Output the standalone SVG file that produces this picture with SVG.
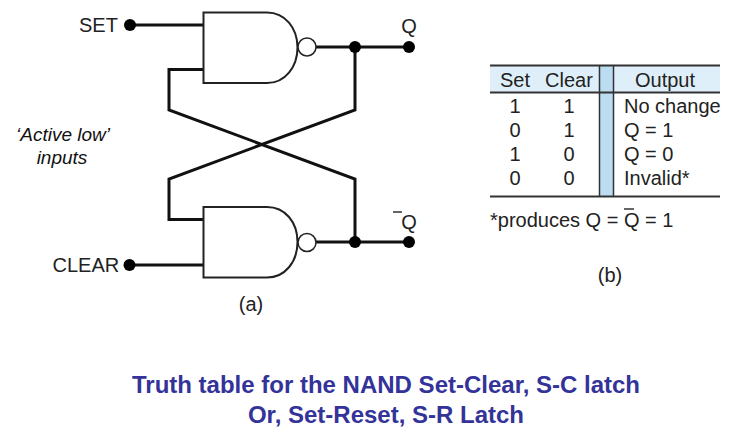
<svg xmlns="http://www.w3.org/2000/svg" width="739" height="439" viewBox="0 0 739 439">
<style>
text{font-family:"Liberation Sans",Arial,sans-serif;fill:#222}
.l{font-size:20px}
.t{font-size:20px}
.m{text-anchor:middle}
.i{font-size:19px;font-style:italic;fill:#111;text-anchor:middle}
.h{font-size:24px;font-weight:bold;fill:#333399;text-anchor:middle}
.gate{fill:#fff;stroke:#222;stroke-width:2}
.bub{fill:#fff;stroke:#222;stroke-width:1.5}
.w{fill:none;stroke:#111;stroke-width:3;stroke-linejoin:miter}
.d{fill:#000}
.r{stroke:#333;stroke-width:2;fill:none}
.b{stroke:#333;stroke-width:1.5;fill:none}
</style>
<rect width="739" height="439" fill="#fff"/>
<g id="connectors">
<path class="w" d="M130 25H203"/>
<path class="w" d="M203 69.500H169V110L355 179V242"/>
<path class="w" d="M203 219.500H169V179L355 110V47"/>
<path class="w" d="M316 47H409"/>
<path class="w" d="M316 242H409"/>
<path class="w" d="M130 265H203"/>
</g>
<g id="gate-top">
<path class="gate" d="M203.500 12.500H267C285 12.500 297.500 28 297.500 47.500C297.500 67 285 83 267 83H203.500Z"/>
<circle class="bub" cx="307" cy="47" r="9"/>
</g>
<g id="gate-bottom">
<path class="gate" d="M203.500 207H267C285 207 297.500 222 297.500 242C297.500 262 285 277.500 267 277.500H203.500Z"/>
<circle class="bub" cx="307" cy="242.500" r="9"/>
</g>
<g id="set"><circle class="d" cx="130" cy="25" r="6"/><text class="l" x="79" y="32">SET</text></g>
<g id="clear"><circle class="d" cx="129.500" cy="265" r="6"/><text class="l" x="52.500" y="272">CLEAR</text></g>
<g id="q"><circle class="d" cx="355" cy="47" r="6"/><circle class="d" cx="409" cy="47" r="6"/><text class="l m" x="409" y="33">Q</text></g>
<g id="qbar"><circle class="d" cx="355" cy="242" r="6"/><circle class="d" cx="409" cy="242" r="6"/><text class="l m" x="409" y="229">Q</text><path class="b" d="M393 212H402"/></g>
<g id="active-low"><text class="i" x="63" y="141">‘Active low’</text><text class="i" x="62" y="164">inputs</text></g>
<text class="l m" x="251" y="311">(a)</text>
<g id="truth-table">
<rect x="490" y="66" width="230" height="26" fill="#dfeff9"/>
<rect x="600" y="66" width="13" height="130" fill="#bcdcf2"/>
<path class="r" d="M490 65.500H720M490 92.500H720M490 196.500H720"/>
<path class="b" d="M599.500 65V197M613.500 65V197"/>
<g>
<text class="t m" x="515" y="87">Set</text><text class="t m" x="569" y="87">Clear</text><text class="t m" x="665" y="87">Output</text>
<text class="t m" x="515" y="113">1</text><text class="t m" x="569" y="113">1</text><text class="t" x="624" y="113">No change</text>
<text class="t m" x="515" y="137">0</text><text class="t m" x="569" y="137">1</text><text class="t" x="624" y="137">Q = 1</text>
<text class="t m" x="515" y="161">1</text><text class="t m" x="569" y="161">0</text><text class="t" x="624" y="161">Q = 0</text>
<text class="t m" x="515" y="185">0</text><text class="t m" x="569" y="185">0</text><text class="t" x="624" y="185">Invalid*</text>
</g>
<text class="t" x="490" y="227">*produces Q = Q = 1</text>
<path class="b" d="M624 209H634"/>
<text class="l m" x="610" y="282">(b)</text>
</g>
<g id="caption">
<text class="h" x="386" y="393">Truth table for the NAND Set-Clear, S-C latch</text>
<text class="h" x="386" y="423">Or, Set-Reset, S-R Latch</text>
</g>
</svg>
